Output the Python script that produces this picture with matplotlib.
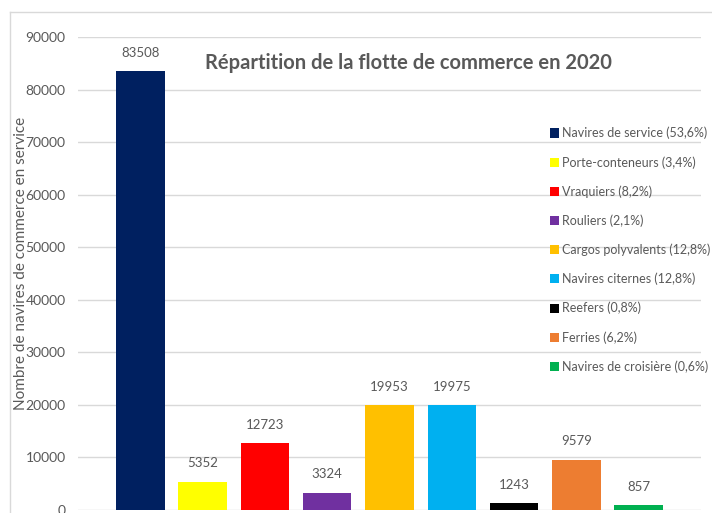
import matplotlib
matplotlib.use("Agg")
import matplotlib.pyplot as plt
from matplotlib.patches import Patch
from matplotlib.lines import Line2D

categories = ["Navires de service", "Porte-conteneurs", "Vraquiers", "Rouliers",
              "Cargos polyvalents", "Navires citernes", "Reefers", "Ferries",
              "Navires de croisière"]
values = [83508, 5352, 12723, 3324, 19953, 19975, 1243, 9579, 857]
shares = ["53,6%", "3,4%", "8,2%", "2,1%", "12,8%", "12,8%", "0,8%", "6,2%", "0,6%"]
colors = ["#002060", "#FFFF00", "#FF0000", "#7030A0", "#FFC000", "#00B0F0",
          "#000000", "#ED7D31", "#00B050"]
yticks = [0, 10000, 20000, 30000, 40000, 50000, 60000, 70000, 80000, 90000]

plt.rcParams['font.family'] = ['Lato', 'DejaVu Sans']
gray = "#595959"

fig = plt.figure(figsize=(7.12, 5.13), dpi=100)
W, H = 712, 513
ax = fig.add_axes([78 / W, (H - 510) / H, (701 - 78) / W, (510 - 37) / H])

x = list(range(len(values)))
bars = ax.bar(x, values, width=0.78, color=colors, zorder=3)
for xi, v in zip(x, values):
    ax.annotate(str(v), (xi, v), xytext=(0, 9), textcoords="offset points",
                ha="center", va="bottom", fontsize=9.5, color=gray)

ax.set_xlim(-1, 9)
ax.set_ylim(0, 90000)
ax.set_yticks(yticks)
ax.set_yticklabels([str(t) for t in yticks], fontsize=10, color=gray)
ax.set_xticks([])
ax.tick_params(axis="y", length=0, pad=9)
ax.grid(axis="y", color="#d9d9d9", linewidth=1, zorder=0)
for s in ax.spines.values():
    s.set_visible(False)

handles = [Patch(facecolor=c, edgecolor="none") for c in colors]
labels = [f"{c} ({s})" for c, s in zip(categories, shares)]
ax.legend(handles, labels, loc="upper left", bbox_to_anchor=(0.757, 0.81),
          frameon=False, fontsize=9, labelcolor=gray, handlelength=0.75,
          handleheight=0.75, handletextpad=0.25, labelspacing=1.33, borderpad=0,
          borderaxespad=0)

fig.text(408 / W, 1 - 63 / H, "Répartition de la flotte de commerce en 2020",
         ha="center", va="center", fontsize=14.5, fontweight="bold", color=gray)
fig.text(21 / W, 1 - 263 / H, "Nombre de navires de commerce en service",
         rotation=90, ha="center", va="center", fontsize=11, color=gray)

# outer chart frame
fig.add_artist(Line2D([10 / W, 10 / W], [0, 1 - 12 / H], transform=fig.transFigure,
                      color="#d9d9d9", linewidth=1))
fig.add_artist(Line2D([10 / W, 1], [1 - 12 / H, 1 - 12 / H], transform=fig.transFigure,
                      color="#d9d9d9", linewidth=1))

fig.savefig("out.png", dpi=100)
